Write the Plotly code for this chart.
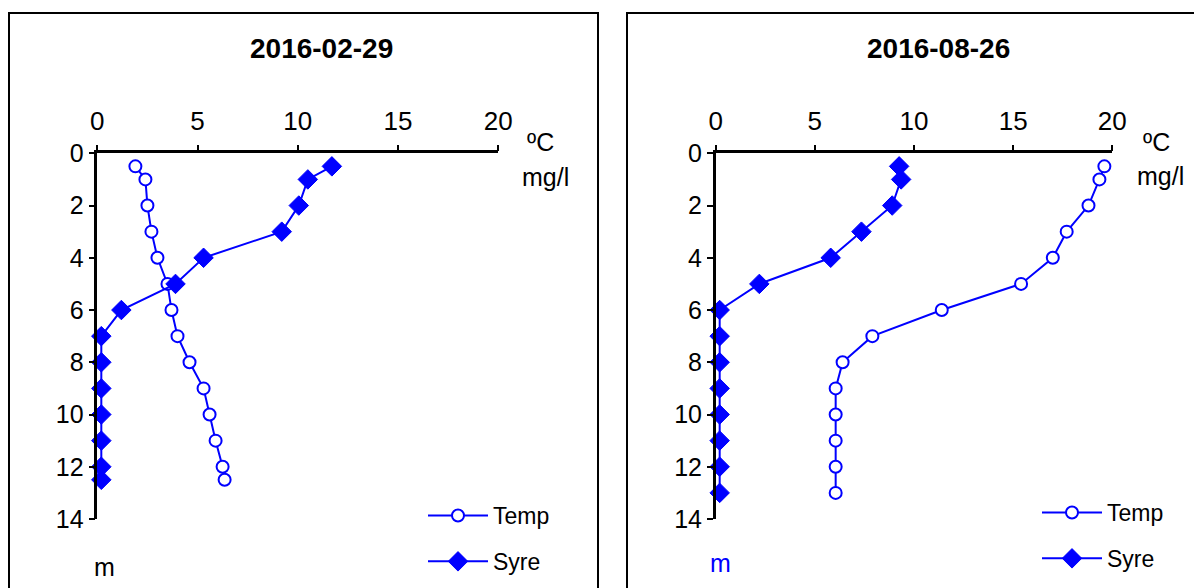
import plotly.graph_objects as go

# ---- data ----
depth_feb = [0.5, 1, 2, 3, 4, 5, 6, 7, 8, 9, 10, 11, 12, 12.5]
temp_feb = [1.9, 2.4, 2.5, 2.7, 3.0, 3.5, 3.7, 4.0, 4.6, 5.3, 5.6, 5.9, 6.25, 6.35]
syre_feb = [11.7, 10.5, 10.05, 9.2, 5.3, 3.9, 1.2, 0.2, 0.2, 0.2, 0.2, 0.2, 0.2, 0.2]

depth_aug = [0.5, 1, 2, 3, 4, 5, 6, 7, 8, 9, 10, 11, 12, 13]
temp_aug = [19.6, 19.35, 18.8, 17.7, 17.0, 15.4, 11.4, 7.9, 6.4, 6.05, 6.05, 6.05, 6.05, 6.05]
syre_aug = [9.25, 9.35, 8.9, 7.35, 5.8, 2.2, 0.2, 0.2, 0.2, 0.2, 0.2, 0.2, 0.2, 0.2]

titles = ["2016-02-29", "2016-08-26"]
x_ticks = [0, 5, 10, 15, 20]
y_ticks = [0, 2, 4, 6, 8, 10, 12, 14]

# page body has an 8px margin; figure fills the rest of the 1202x588 window
OFF = 8
W, H = 1202 - OFF, 588 - OFF
BLUE = "#0000FF"
FONT = "Liberation Sans, Arial, sans-serif"

def px(x):
    return (x - OFF) / W

def py(y):
    return 1 - (y - OFF) / H

fig = go.Figure()

panels = [
    dict(depth=depth_feb, temp=temp_feb, syre=syre_feb, xa="x", ya="y", leg="legend"),
    dict(depth=depth_aug, temp=temp_aug, syre=syre_aug, xa="x2", ya="y2", leg="legend2"),
]

for p in panels:
    fig.add_trace(go.Scatter(
        x=p["temp"], y=p["depth"], xaxis=p["xa"], yaxis=p["ya"], name="Temp",
        mode="lines+markers", legend=p["leg"], legendgroup=p["leg"] + "t",
        line=dict(color=BLUE, width=2),
        marker=dict(symbol="circle", size=12, color="white", line=dict(color=BLUE, width=2)),
        cliponaxis=False,
    ))
    fig.add_trace(go.Scatter(
        x=p["syre"], y=p["depth"], xaxis=p["xa"], yaxis=p["ya"], name="Syre",
        mode="lines+markers", legend=p["leg"], legendgroup=p["leg"] + "s",
        line=dict(color=BLUE, width=2),
        marker=dict(symbol="diamond", size=15, color=BLUE, line=dict(color=BLUE, width=1)),
        cliponaxis=False,
    ))

xaxis_common = dict(
    range=[0, 20], side="top", tickvals=x_ticks, ticks="outside", ticklen=6, tickwidth=2,
    tickcolor="black", showline=True, linecolor="black", linewidth=2.5, showgrid=False,
    zeroline=False, tickfont=dict(family=FONT, size=26, color="black"), fixedrange=True,
    automargin=False, ticklabelstandoff=4,
)
yaxis_common = dict(
    range=[14, 0], tickvals=y_ticks, ticks="outside", ticklen=6, tickwidth=2,
    tickcolor="black", showline=True, linecolor="black", linewidth=2.5, showgrid=False,
    zeroline=False, tickfont=dict(family=FONT, size=25, color="black"), fixedrange=True,
    automargin=False,
)

ydom = [py(519), py(153.3)]
fig.update_layout(
    width=W, height=H, margin=dict(l=0, r=0, t=0, b=0, pad=0, autoexpand=False),
    paper_bgcolor="white", plot_bgcolor="white",
    xaxis=dict(xaxis_common, domain=[px(97.3), px(498.3)], anchor="y"),
    yaxis=dict(yaxis_common, domain=ydom, anchor="x"),
    xaxis2=dict(xaxis_common, domain=[px(715.7), px(1112.3)], anchor="y2"),
    yaxis2=dict(yaxis_common, domain=ydom, anchor="x2"),
    legend=dict(x=px(423), y=py(494), xanchor="left", yanchor="top",
                font=dict(family=FONT, size=23, color="black"), itemwidth=60,
                tracegroupgap=13, traceorder="grouped", bgcolor="rgba(0,0,0,0)"),
    legend2=dict(x=px(1037), y=py(491), xanchor="left", yanchor="top",
                 font=dict(family=FONT, size=23, color="black"), itemwidth=60,
                 tracegroupgap=13, traceorder="grouped", bgcolor="rgba(0,0,0,0)"),
    showlegend=True,
)

# panel borders
fig.add_shape(type="rect", xref="paper", yref="paper", x0=px(9), x1=px(598), y0=py(640), y1=py(13),
              line=dict(color="black", width=2), layer="below")
fig.add_shape(type="rect", xref="paper", yref="paper", x0=px(627), x1=px(1240), y0=py(640), y1=py(13),
              line=dict(color="black", width=2), layer="below")

def ann(text, x, y, size=25, color="black", bold=False, xanchor="center"):
    fig.add_annotation(text=("<b>%s</b>" % text) if bold else text, x=px(x), y=py(y),
                       xref="paper", yref="paper", showarrow=False, xanchor=xanchor, yanchor="middle",
                       font=dict(family=FONT, size=size, color=color))

ann(titles[0], 321, 49, size=28, bold=True)
ann(titles[1], 938, 49, size=28, bold=True)
ann("ºC", 540, 142)
ann("mg/l", 545, 177)
ann("ºC", 1156, 142)
ann("mg/l", 1160, 176)
ann("m", 104, 567)
ann("m", 720, 563, color=BLUE)

fig.write_html("out.html")
